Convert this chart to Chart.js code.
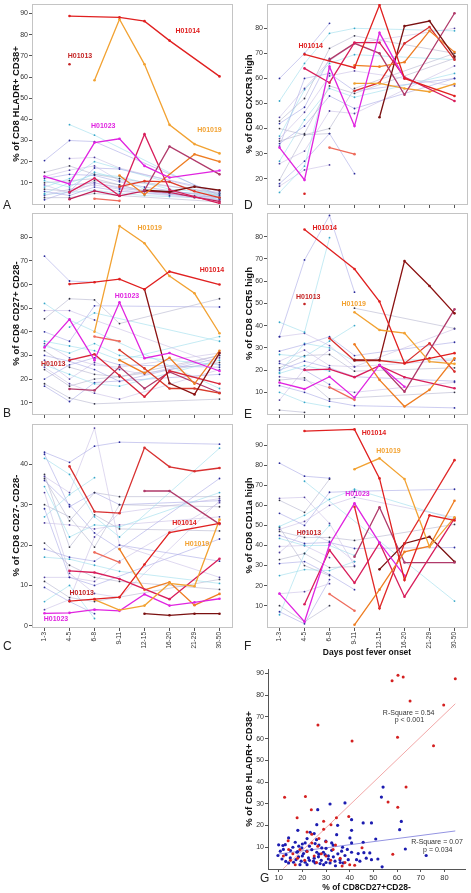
<!DOCTYPE html>
<html>
<head>
<meta charset="utf-8">
<script src="https://cdn.jsdelivr.net/npm/chart.js@4.4.1/dist/chart.umd.min.js"></script>
<style>
  html, body { margin: 0; padding: 0; background: #fff; }
  body { width: 471px; height: 893px; position: relative; overflow: hidden; font-family: "Liberation Sans", Arial, sans-serif; }
  canvas { position: absolute; }
  .letter { position: absolute; font-size: 12px; line-height: 12px; color: #222; }
</style>
</head>
<body>
<canvas id="chartA" width="236" height="210" style="left:0;top:0"></canvas>
<canvas id="chartB" width="236" height="212" style="left:0;top:208px"></canvas>
<canvas id="chartC" width="236" height="231" style="left:0;top:419px"></canvas>
<canvas id="chartD" width="235" height="210" style="left:236px;top:0"></canvas>
<canvas id="chartE" width="235" height="212" style="left:236px;top:208px"></canvas>
<canvas id="chartF" width="235" height="239" style="left:236px;top:419px"></canvas>
<canvas id="chartG" width="235" height="233" style="left:236px;top:660px"></canvas>
<div class="letter" style="left:3px;top:199px">A</div>
<div class="letter" style="left:3px;top:407px">B</div>
<div class="letter" style="left:3px;top:640px">C</div>
<div class="letter" style="left:244px;top:199px">D</div>
<div class="letter" style="left:244px;top:408px">E</div>
<div class="letter" style="left:244px;top:640px">F</div>
<div class="letter" style="left:260px;top:872px">G</div>
<script>
// Jours après le début de la fièvre
const days = ['1-3', '4-5', '6-8', '9-11', '12-15', '16-20', '21-29', '30-50'];

// ---- A : HLADR+ CD38+
const aH01014 = [null, 88.8, null, 88.2, 86.4, 77.2, null, 60.3];
const aH01013 = [null, 66, null, null, null, null, null, null];
const aH01019 = [null, null, 58.5, 87.3, 66, 37.4, 28.3, 23.9];
const aH01023 = [13, 9.5, 29, 30.8, 18, 12.5, null, 15.8];
const aOther = [
    [null, 5.6, 12.2, 3.9, 33, 6.7, null, 0.3],
    [null, null, null, null, 6.5, 27.2, null, 14],
    [null, null, null, 13.5, 4.5, null, 23.5, 20],
    [null, null, null, null, 6.5, 5.8, 8.2, 6.5],
    [null, null, null, 8.2, 10.8, 10.5, 6, 3],
    [null, null, 2.5, 1.5, null, null, null, null],
    [null, 2.3, 6.2, 3.8, 6.2, 5.5, 3.2, 1.2]
];
const aBackground = [
    [20.5, 30, 29.5, null, null, null, null, 4],
    [null, 37.5, 32.5, null, null, null, null, 3],
    [null, 21.5, 22, 17, null, null, null, 5],
    [15, 18, 14, 12, null, null, null, 5],
    [12, 14, 13.5, 10.5, 8, null, null, 3],
    [11, 8, 15, 12, 7, null, null, 4],
    [9, 5, 10, 8, null, 5, null, 2],
    [7, 6, 11, 9, 6, null, null, 4.5],
    [6, 4, 8, 6, null, null, null, 3],
    [5, 10, 14, 13, null, 7, null, 5],
    [4, 7, 9, 7, 5, 4, null, 2],
    [3, 3, 5, 4, null, null, null, 1],
    [2, 6, 17, 16.5, null, null, null, 6],
    [8, 12, 20, null, null, null, null, 3.5],
    [13, 16, 18, 11, null, null, null, 5.5],
    [10, 11, 12, 9, 6, 5, 4, 3],
    [null, 9, 10, 7.5, null, null, null, 2],
    [4.5, 5.5, 6.5, 5, 4, 3.5, 3, 2.5]
];
const aTicks = [10, 20, 30, 40, 50, 60, 70, 80, 90];

// ---- B : CD27+ CD28-
const bH01014 = [null, 60.2, 61, 62.3, 58, 65.5, null, 60];
const bH01019 = [null, null, 40, 84.8, 77.5, 63.6, 56.3, 39.4];
const bH01023 = [33.4, 45.3, 28, 52.5, 28.8, 31, null, 23.4];
const bOther = [
    [null, null, null, null, 58, 18.2, 13.5, 31],
    [null, 28, 30.5, 21.5, 12.5, 23.5, null, 18],
    [null, null, 38, 36, null, null, null, null],
    [null, null, null, 32.3, 24.5, 16, 16, 14],
    [null, null, null, 28, 22.5, 29, 18, 32],
    [null, 15.8, 15.2, 25.2, 16, 23, null, 14.2]
];
const bBackground = [
    [72, 61.5, 61, null, null, null, null, null],
    [52, 45, null, null, null, null, null, 16],
    [49, 49, 45, null, null, null, null, 26],
    [45.5, 54, 53.5, 43.5, null, null, null, 54],
    [40, 36, 51, null, null, null, null, 50.5],
    [36, 34, 32, 28, null, null, null, 38],
    [35, 29, 26, 25, null, null, null, 31],
    [32, 25, 22, 21, null, null, null, 30],
    [30, 27.5, 24, 19, null, null, null, 29],
    [26, 22, 18, 17, null, null, null, 28],
    [25, 18, 14, 11.5, null, null, null, 24],
    [18, 12, 9.5, null, null, null, null, 11.5],
    [17, 10.5, 18.5, null, null, null, null, 22],
    [34, 31, 35, 30, null, null, null, 26],
    [28, 20, 27, 24, 22, null, null, 30],
    [24, 17, 20, 21, null, null, null, 27],
    [20, 26, 29, 26, null, null, null, 25],
    [null, 42, 48, null, null, null, null, 36]
];
const bTicks = [10, 20, 30, 40, 50, 60, 70, 80];

// ---- C : CD27- CD28-
const cH01014 = [null, 6.1, 6.6, 7.1, 15.2, 23.1, null, 25.4];
const cH01019 = [null, null, 6.5, 3.9, 5, 10.5, 9.8, 26.3];
const cH01023 = [3.1, 3.2, 4, 3.7, 7.8, 5, 5.8, 6.7];
const cOther = [
    [null, 39.5, 28.3, 27.9, 44.1, 39.4, 38.3, 39.1],
    [null, null, null, null, 33.4, 33.4, null, 25.2],
    [null, null, 18.2, 15.7, null, null, null, null],
    [null, 13.6, 13.2, 11.6, null, 6.6, null, 16.6],
    [null, null, null, 19, 8.9, 10.8, 5.1, 7.9],
    [null, null, null, null, 3, 2.6, 3, 3]
];
const cBackground = [
    [43, 40.5, 44.5, 45.5, null, null, null, 45],
    [41.5, 37.5, 27, 22, null, null, null, 44],
    [37, 33, 49, 20, null, null, null, 12],
    [36.5, 26, 33, 32, null, null, null, 32],
    [36, 30, 23, 19, null, null, null, 36.5],
    [34.5, 22, 25, 24.5, null, null, null, 33],
    [33, 13, 8, 7, null, null, null, 31],
    [30, 27, 19.5, 30, null, null, null, 29.5],
    [29, 12, 10, null, null, null, null, 21.5],
    [27, 32.5, 36.7, null, null, null, null, null],
    [25.5, 25, 24, 25, null, null, null, 27],
    [20.5, 15, 12, 11, null, null, null, 9],
    [19, 17, 16, 20, null, null, null, 16],
    [17, 16.5, 15, 13.5, null, null, null, 10.5],
    [12, 12, 11, 16, null, null, null, 30.5],
    [11, 7, 6, null, null, null, null, 11.5],
    [9.5, 6, 3, null, null, null, null, null],
    [6, 10, 1.8, null, null, null, null, null],
    [4, 6.5, 22, 28, null, null, null, 31.5],
    [37.5, 19.5, 27.5, 24, null, null, null, 23.5],
    [42.5, 29.5, 33, 30, null, null, null, 31]
];
const cTicks = [0, 10, 20, 30, 40];

// ---- D : CXCR3 high
const dH01014 = [null, 69.6, null, 64.3, 89.3, 60, null, 53];
const dH01023 = [32.4, 19.5, 64.7, 41, 78.2, 60, null, null];
const dOther = [
    [null, 64, 58.3, 74.3, 74.3, 60.5, null, 51],
    [null, null, null, null, 44.5, 80.9, 82.9, 68.7],
    [null, null, 67.5, 74, 70, 53.5, null, 86],
    [null, null, null, 65.2, 64.7, 66.5, 79, 70.5],
    [null, null, null, 58, 58, 56, 54.7, 57.8],
    [null, null, null, 55, 58.3, 74, 80.5, 67.5],
    [null, null, 32.4, 29.8, null, null, null, null],
    [null, 14, null, null, null, null, null, null]
];
const dBackground = [
    [60, 70, 82, null, null, null, null, null],
    [51, 66, 78, 80, null, null, null, 79],
    [44.5, 56, 67, 74, null, null, null, 80],
    [43, 52, 72, 77, null, null, null, 70],
    [42, 48.5, 68, null, null, null, null, null],
    [37, 55.5, 66, 69.5, null, null, null, 67.5],
    [36, 46.5, 61, 63, null, null, null, 57],
    [35, 38, 57, 54, null, null, null, 68],
    [34, 41, 53, 48, null, null, null, 60],
    [27, 43.5, 56, 52.5, null, null, null, 62],
    [26, 31, 47, 46, null, null, null, 65],
    [19.5, 37.5, 40, 56, null, null, null, 70],
    [18, 27, 38, 22, null, null, null, null],
    [14.5, 25, 64, null, null, null, null, null],
    [17, 23.5, 25.5, null, null, null, null, null],
    [40, 37.5, 38, null, null, null, null, null],
    [33, 60, 62, 55, null, null, null, 60]
];
const dTicks = [20, 30, 40, 50, 60, 70, 80];

// ---- E : CCR5 high
const eH01014 = [null, 83.2, null, 65.4, 50.8, 23.1, 25.3, 27.6];
const eH01013 = [null, 49.7, null, null, null, null, null, null];
const eH01019 = [null, null, null, 46, 38, 36.6, 23.8, 22.8];
const eH01023 = [14.4, 11.5, 17, 7.6, 22.3, 12.5, null, null];
const eOther = [
    [null, null, null, 31.6, 15.6, 3.6, 11.1, 25.3],
    [null, null, null, 24.6, 24.5, 69, 57.8, 45.5],
    [null, null, null, null, 22.3, 10.3, null, 47.3],
    [null, 20, 20.4, 16.8, 22, 16.8, null, 11.8],
    [null, null, 34.3, 24.3, 24.3, 23, 32, 19.3],
    [null, null, 12.3, 6.6, null, null, null, null]
];
const eBackground = [
    [35, 69.5, 89.5, 55, null, null, null, null],
    [41.5, 37, 79.5, null, null, null, null, null],
    [35, 36.5, 31, 21.5, null, null, null, 38.5],
    [null, null, null, 47.8, null, null, null, 38.7],
    [28.5, 31.5, 35, 26.5, null, null, null, 32.5],
    [27, 26, 33, 40, null, null, null, null],
    [24, 29, 22, 21.5, null, null, null, 24.5],
    [21, 26.5, 27, 19.5, null, null, null, 21],
    [20, 24, 21, 17, null, null, null, 15],
    [18.5, 22, 19.5, null, null, null, null, null],
    [17, 15.5, 12, 10, null, null, null, 14.5],
    [15.5, 16.5, 7, null, null, null, null, 10],
    [13, 10, 6, 4, null, null, null, 3],
    [10, 5.5, 3.5, null, null, null, null, null],
    [6.5, 20.5, 29, null, null, null, null, null],
    [2, 1, null, null, null, null, null, null],
    [23, 20, 13.5, null, null, null, null, null],
    [19, 32, 30, 24, null, null, null, 25]
];
const eTicks = [10, 20, 30, 40, 50, 60, 70, 80];

// ---- F : CD11a high
const fH01014 = [null, 97, null, 97.8, 73.4, 22.8, 55, 52.5];
const fH01019 = [null, null, null, 78, 83.4, 73.1, 39.2, 54];
const fH01023 = [16, 2, 40.5, 61, 41.3, 25, null, null];
const fOther = [
    [null, null, null, 0.5, 18, 36.8, 39.7, 62.3],
    [null, 10.7, 37.7, 21.4, 41.3, 14.5, null, 53.5],
    [null, null, null, 59.3, 8.7, 41, null, 82.5],
    [null, null, null, 34.4, 59, 31.5, null, 31.5],
    [null, null, null, null, 28.1, 41, 44.3, 31.9],
    [null, null, 15.8, 7.5, null, null, null, null]
];
const fBackground = [
    [81, 74.5, 73.5, null, null, null, null, null],
    [null, 72, null, null, null, null, null, 12.3],
    [63.5, 64, 51, 30, null, null, null, null],
    [62.5, 56.5, 73, null, null, null, null, null],
    [56, 50, 66.5, 67, null, null, null, 68],
    [49.5, 55, 63, 68, null, null, null, 53],
    [48, 52, 60, 64, null, null, null, 54],
    [47, 44, 44, 42.5, null, null, null, 50.5],
    [45, 41, 41.5, 38.5, null, null, null, 39],
    [43.5, 40, 40, 35, null, null, null, null],
    [39.5, 40, 34, null, null, null, null, null],
    [33, 36, 29, 29.5, null, null, null, null],
    [31, 32, 25.5, 18, null, null, null, null],
    [25, 28, 27.5, 32, null, null, null, null],
    [16, 17, 21, null, null, null, null, null],
    [10, 2, 10, null, null, null, null, null],
    [7, 1, 23, null, null, null, null, null],
    [5.5, 36, 50, null, null, null, null, null],
    [36.5, 47, 42, 32, null, null, null, null],
    [49, 30, 25, null, null, null, null, null]
];
const fTicks = [10, 20, 30, 40, 50, 60, 70, 80, 90];

// ---- G : HLADR+CD38+ contre CD27+CD28-
const gRed = [
    [57.9, 86.6], [60.4, 89.1], [62.6, 88.3], [65.5, 77.3], [84.6, 87.5], [79.7, 75.4], [60.2, 60.6],
    [75.4, 56.7], [26.6, 66.2], [41, 58.9], [63.8, 37.7], [12.5, 33], [21.3, 33.3], [56.2, 30.8],
    [60.3, 28.4], [23.8, 27.2], [17.8, 23.6], [34.4, 23.6], [39.6, 24.1], [29, 22], [32.1, 20.3],
    [29, 18.3], [45.2, 9.8], [58.2, 6.8], [42.1, 1.7], [36.8, 1.4], [14.2, 9], [16, 7], [18, 5],
    [21, 4], [24, 12], [26.5, 10.5], [28, 7], [30, 6], [32, 4], [34, 11], [26, 3], [12, 6], [15, 4],
    [25, 6], [22, 8], [27, 14], [19, 9], [36, 5], [38, 3], [40, 2], [30, 12.5], [33, 9], [17, 2],
    [14, 13], [22, 17], [24, 16]
];
const gBlue = [
    [54.1, 37.7], [53.4, 33.1], [31.7, 29.9], [38, 30.4], [26.5, 27.3], [61.8, 21.9], [61.1, 18.1],
    [45.7, 21.2], [49.2, 21.2], [40.8, 22.7], [40.8, 17.8], [34.9, 20.1], [26.1, 20.4], [23.3, 16.9],
    [25, 16.3], [34.5, 15.8], [40.1, 14.3], [18.1, 17.8], [14.2, 14.3], [51, 13.8], [45.7, 12.3],
    [40.8, 12], [32.4, 12], [29.9, 12.8], [25.4, 11.7], [21.2, 12], [17, 12.3], [12.8, 11.2],
    [10, 11.1], [11.8, 10.8], [63.5, 9.2], [72.3, 6.2], [53.7, 1], [48.5, 7.4], [43.6, 7.1],
    [38, 6.2], [35.9, 4.3], [33.1, 5.6], [31, 4.6], [28.9, 7.7], [26.8, 5.6], [24.7, 3.6],
    [22.6, 5.1], [20.5, 7.1], [18.4, 5.6], [16.3, 3.1], [14.9, 5.1], [13.1, 6.6], [11.4, 4.6],
    [9.7, 6.2], [10.7, 8.2], [19.8, 9.7], [24, 8.9], [28.2, 9.7], [32.4, 8.6], [36.6, 8.2],
    [40.8, 7.7], [42.9, 4.3], [49.2, 4.3], [51.9, 4.6], [44.3, 3.6], [17.7, 7.7], [21.9, 8.2],
    [26.1, 7.7], [29.6, 6.6], [33.8, 3.6], [37.3, 2.8], [39.4, 4.3], [25.4, 2.8], [27.5, 2.5],
    [19.5, 3.6], [17.3, 4.3], [14.2, 2.8], [21.2, 3.1], [31.7, 2.8], [18.5, 10.5], [20, 6],
    [23, 10.5], [27, 11], [30, 9.5], [35, 7], [37, 10], [19, 2], [15, 8.5], [12, 9], [16, 10],
    [22, 2], [28, 4], [30, 3], [34, 1.5], [36, 3], [47, 5], [46, 7.5], [25, 5], [27, 6.8], [23, 4],
    [29, 2], [18, 8], [13, 3.5], [20, 11.5], [31, 6], [33, 11], [39, 9], [26, 13.5], [22, 14]
];
const gRedFit = [[12, 0.2], [84.6, 76]];
const gBlueFit = [[10, 6.9], [84.6, 17.5]];
const gXTicks = [10, 20, 30, 40, 50, 60, 70, 80];
const gYTicks = [10, 20, 30, 40, 50, 60, 70, 80, 90];

// ---- styles
Chart.defaults.font.family = '"Liberation Sans", Arial, sans-serif';
const RED = '#e02020', DARKRED = '#c42424', ORANGE = '#f2a232', MAGENTA = '#e024e0';
const bgLines = ['#aaaae6', '#9edeec', '#cabfe6', '#b6b6ce'];
const bgDots = ['#2a2a9a', '#36a6c8', '#4a3a9a', '#333344'];

function fixSize(size) {
    return function (scale) {
        if (scale.isHorizontal()) scale.height = size; else scale.width = size;
        scale.paddingTop = 0; scale.paddingBottom = 0;
        scale.paddingLeft = 0; scale.paddingRight = 0;
    };
}

// cadre gris autour de la zone de tracé
const boxPlugin = {
    id: 'box',
    beforeDatasetsDraw(chart) {
        const a = chart.chartArea, ctx = chart.ctx;
        ctx.save();
        ctx.strokeStyle = '#c4c4c4';
        ctx.lineWidth = 1;
        ctx.strokeRect(Math.round(a.left) + 0.5, Math.round(a.top) + 0.5, Math.round(a.width), Math.round(a.height));
        ctx.restore();
    }
};

// étiquettes de patients / textes posés en coordonnées de données
const tagPlugin = {
    id: 'tags',
    afterDatasetsDraw(chart, args, opts) {
        const ctx = chart.ctx;
        ctx.save();
        ctx.textAlign = 'center';
        ctx.textBaseline = 'middle';
        (opts.items || []).forEach(t => {
            ctx.font = opts.font;
            ctx.fillStyle = t.color;
            ctx.fillText(t.text, chart.scales.x.getPixelForValue(t.x), chart.scales.y.getPixelForValue(t.y));
        });
        ctx.restore();
    }
};

function mainSet(values, color) {
    return {
        data: values, borderColor: color, borderWidth: 1.3, spanGaps: true,
        pointRadius: 1.3, pointBackgroundColor: color, pointBorderWidth: 0
    };
}

function bgSet(values, i) {
    return {
        data: values, borderColor: bgLines[i % 4], borderWidth: 0.6, spanGaps: true,
        pointRadius: 0.9, pointBackgroundColor: bgDots[i % 4], pointBorderWidth: 0
    };
}

function linePanel(id, cfg) {
    const datasets = [];
    cfg.main.forEach(m => datasets.push(mainSet(m[0], m[1])));
    cfg.other.forEach((s, i) => datasets.push(mainSet(s, cfg.otherColors[i])));
    cfg.background.forEach((s, i) => datasets.push(bgSet(s, i)));

    return new Chart(document.getElementById(id), {
        type: 'line',
        data: { labels: days, datasets },
        options: {
            responsive: false,
            animation: false,
            layout: { padding: { top: cfg.top, right: cfg.right, left: 0, bottom: 0 } },
            plugins: {
                legend: { display: false },
                tooltip: { enabled: false },
                tags: { items: cfg.tags, font: 'bold 7px "Liberation Sans", Arial, sans-serif' }
            },
            scales: {
                x: {
                    type: 'category',
                    offset: true,
                    grid: { offset: false, drawOnChartArea: false, tickLength: 4, color: '#555', tickColor: '#555' },
                    border: { display: false },
                    ticks: { display: !!cfg.xLabels, autoSkip: false, minRotation: 90, maxRotation: 90, padding: 1, color: '#333', font: { size: 6.5 } },
                    title: {
                        display: !!cfg.xTitle, text: cfg.xTitle || '', color: '#111',
                        font: { size: 8.5, weight: 'bold' }, padding: { top: 0, bottom: 0 }
                    },
                    afterFit: fixSize(cfg.xHeight)
                },
                y: {
                    min: cfg.min,
                    max: cfg.max,
                    afterBuildTicks: s => { s.ticks = cfg.ticks.map(v => ({ value: v })); },
                    grid: { drawOnChartArea: false, tickLength: 3, color: '#555', tickColor: '#555' },
                    border: { display: false },
                    ticks: { padding: 1, color: '#333', font: { size: 7 } },
                    title: {
                        display: true, text: cfg.yTitle, color: '#111',
                        font: { size: 9.5, weight: 'bold' }, padding: { top: cfg.titlePad, bottom: 0 }
                    },
                    afterFit: fixSize(cfg.yWidth)
                }
            }
        },
        plugins: [boxPlugin, tagPlugin]
    });
}

linePanel('chartA', {
    main: [[aH01014, RED], [aH01013, DARKRED], [aH01019, ORANGE], [aH01023, MAGENTA]],
    other: aOther,
    otherColors: ['#d81e5b', '#b03a6a', '#ee7d22', '#7a1010', '#e03a2a', '#ee6b5b', '#c0205a'],
    background: aBackground,
    min: 0, max: 94.5, ticks: aTicks,
    yTitle: '% of CD8 HLADR+ CD38+',
    top: 4, right: 3, yWidth: 32, xHeight: 6, titlePad: 11,
    tags: [
        { text: 'H01014', x: 5.73, y: 81.8, color: RED },
        { text: 'H01013', x: 1.42, y: 70.1, color: DARKRED },
        { text: 'H01023', x: 2.35, y: 36.9, color: MAGENTA },
        { text: 'H01019', x: 6.6, y: 35, color: ORANGE }
    ]
});

linePanel('chartB', {
    main: [[bH01014, RED], [bH01019, ORANGE], [bH01023, MAGENTA]],
    other: bOther,
    otherColors: ['#8b1212', '#d8253a', '#ee6b5b', '#d83a2a', '#ee7d22', '#b03a6a'],
    background: bBackground,
    min: 5.2, max: 90.3, ticks: bTicks,
    yTitle: '% of CD8 CD27+ CD28-',
    top: 5, right: 3, yWidth: 32, xHeight: 6, titlePad: 11,
    tags: [
        { text: 'H01019', x: 4.21, y: 84.1, color: ORANGE },
        { text: 'H01014', x: 6.7, y: 66.2, color: RED },
        { text: 'H01023', x: 3.3, y: 55.2, color: MAGENTA },
        { text: 'H01013', x: 0.35, y: 26.4, color: DARKRED }
    ]
});

linePanel('chartC', {
    main: [[cH01014, RED], [cH01019, ORANGE], [cH01023, MAGENTA]],
    other: cOther,
    otherColors: ['#d83030', '#b03a6a', '#ee6b5b', '#d81e5b', '#ee7d22', '#7a1010'],
    background: cBackground,
    min: -0.3, max: 50, ticks: cTicks,
    yTitle: '% of CD8 CD27- CD28-',
    top: 5, right: 3, yWidth: 32, xHeight: 23, titlePad: 11, xLabels: true,
    tags: [
        { text: 'H01014', x: 5.6, y: 25.4, color: RED },
        { text: 'H01019', x: 6.1, y: 20.2, color: ORANGE },
        { text: 'H01013', x: 1.49, y: 8.2, color: DARKRED },
        { text: 'H01023', x: 0.46, y: 1.6, color: MAGENTA }
    ]
});

linePanel('chartD', {
    main: [[dH01014, RED], [dH01023, MAGENTA]],
    other: dOther,
    otherColors: ['#d81e5b', '#7a1010', '#b03a6a', '#ee7d22', '#f0a030', '#d83030', '#ee6b5b', '#d82020'],
    background: dBackground,
    min: 9.9, max: 89.7, ticks: dTicks,
    yTitle: '% of CD8 CXCR3 high',
    top: 4, right: 4, yWidth: 31, xHeight: 6, titlePad: 8,
    tags: [
        { text: 'H01014', x: 1.25, y: 73.1, color: RED }
    ]
});

linePanel('chartE', {
    main: [[eH01014, RED], [eH01013, DARKRED], [eH01019, ORANGE], [eH01023, MAGENTA]],
    other: eOther,
    otherColors: ['#ee7d22', '#8b1212', '#b03a6a', '#d81e5b', '#d83030', '#ee6b5b'],
    background: eBackground,
    min: 0.25, max: 90.6, ticks: eTicks,
    yTitle: '% of CD8 CCR5 high',
    top: 5, right: 4, yWidth: 31, xHeight: 6, titlePad: 8,
    tags: [
        { text: 'H01014', x: 1.81, y: 83.8, color: RED },
        { text: 'H01013', x: 1.15, y: 52.6, color: DARKRED },
        { text: 'H01019', x: 2.97, y: 49.6, color: ORANGE }
    ]
});

linePanel('chartF', {
    main: [[fH01014, RED], [fH01019, ORANGE], [fH01023, MAGENTA]],
    other: fOther,
    otherColors: ['#ee7d22', '#d81e5b', '#e02828', '#b03a6a', '#7a1010', '#ee6b5b'],
    background: fBackground,
    min: -0.6, max: 100.5, ticks: fTicks,
    yTitle: '% of CD8 CD11a high',
    xTitle: 'Days post fever onset',
    top: 5, right: 4, yWidth: 31, xHeight: 31, titlePad: 8, xLabels: true,
    tags: [
        { text: 'H01014', x: 3.78, y: 95.8, color: RED },
        { text: 'H01019', x: 4.36, y: 87, color: ORANGE },
        { text: 'H01023', x: 3.12, y: 65.4, color: MAGENTA },
        { text: 'H01013', x: 1.18, y: 46, color: DARKRED }
    ]
});

// ---- G : nuage de points
const toXY = list => list.map(p => ({ x: p[0], y: p[1] }));

new Chart(document.getElementById('chartG'), {
    type: 'scatter',
    data: {
        datasets: [
            { data: toXY(gRed), pointRadius: 1.5, pointBackgroundColor: '#d42020', pointBorderWidth: 0, order: 1 },
            { data: toXY(gBlue), pointRadius: 1.6, pointBackgroundColor: '#1c1cb0', pointBorderWidth: 0, order: 2 },
            { data: toXY(gRedFit), showLine: true, borderColor: '#f2a8a8', borderWidth: 1, pointRadius: 0, order: 3 },
            { data: toXY(gBlueFit), showLine: true, borderColor: '#9494e2', borderWidth: 1, pointRadius: 0, order: 3 }
        ]
    },
    options: {
        responsive: false,
        animation: false,
        layout: { padding: { top: 9, right: 6, left: 0, bottom: 0 } },
        plugins: {
            legend: { display: false },
            tooltip: { enabled: false },
            tags: {
                font: '7px "Liberation Sans", Arial, sans-serif',
                items: [
                    { text: 'R-Square = 0.54', x: 64.9, y: 71.9, color: '#333' },
                    { text: 'p < 0.001', x: 65.2, y: 68.5, color: '#333' },
                    { text: 'R-Square = 0.07', x: 76.9, y: 12.6, color: '#333' },
                    { text: 'p = 0.034', x: 77.2, y: 8.8, color: '#333' }
                ]
            }
        },
        scales: {
            x: {
                type: 'linear', min: 5.5, max: 88.7,
                afterBuildTicks: s => { s.ticks = gXTicks.map(v => ({ value: v })); },
                grid: { drawOnChartArea: false, tickLength: 3, color: '#555', tickColor: '#555' },
                border: { display: true, color: '#555' },
                ticks: { padding: 1, color: '#333', font: { size: 7.5 } },
                title: {
                    display: true, text: '% of CD8CD27+CD28-', color: '#111',
                    font: { size: 8.5, weight: 'bold' }, padding: { top: 0, bottom: 0 }
                },
                afterFit: fixSize(24)
            },
            y: {
                min: 0, max: 92,
                afterBuildTicks: s => { s.ticks = gYTicks.map(v => ({ value: v })); },
                grid: { drawOnChartArea: false, tickLength: 3, color: '#555', tickColor: '#555' },
                border: { display: true, color: '#555' },
                ticks: { padding: 1, color: '#333', font: { size: 7 } },
                title: {
                    display: true, text: '% of CD8 HLADR+ CD38+', color: '#111',
                    font: { size: 9.5, weight: 'bold' }, padding: { top: 8, bottom: 0 }
                },
                afterFit: fixSize(32)
            }
        }
    },
    plugins: [tagPlugin]
});
</script>
</body>
</html>
